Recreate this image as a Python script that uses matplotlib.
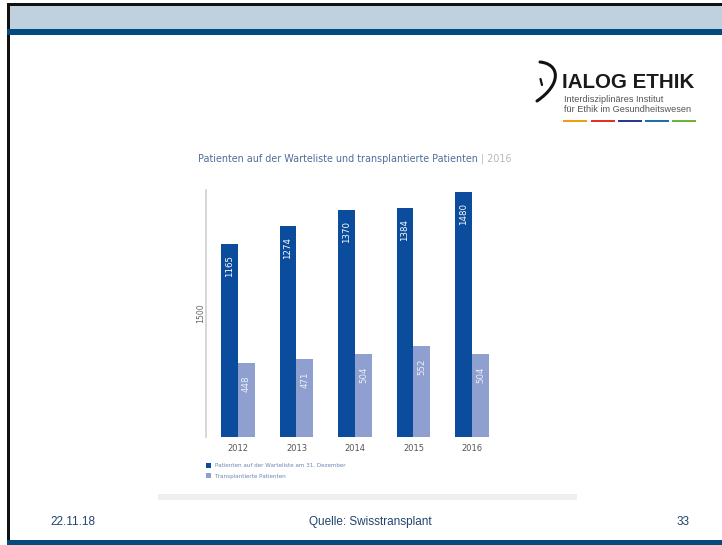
import numpy as np
import matplotlib
matplotlib.use("Agg")
import matplotlib.pyplot as plt
from matplotlib.patches import Rectangle, PathPatch
from matplotlib.path import Path

years = ["2012", "2013", "2014", "2015", "2016"]
waiting = [1165, 1274, 1370, 1384, 1480]
transplanted = [448, 471, 504, 552, 504]

legend_labels = ["Patienten auf der Warteliste am 31. Dezember", "Transplantierte Patienten"]
title_main = "Patienten auf der Warteliste und transplantierte Patienten"
title_year = " | 2016"

DARK = "#0b4c9c"
LIGHT = "#8e9fd0"
W, H = 722, 545

fig = plt.figure(figsize=(W / 100, H / 100), dpi=100)

# slide background in pixel coordinates
bg = fig.add_axes([0, 0, 1, 1])
bg.set_xlim(0, W)
bg.set_ylim(H, 0)
bg.axis("off")

bg.add_patch(Rectangle((7, 3), W - 7, 2.5, color="#111111", lw=0))
bg.add_patch(Rectangle((7, 3), 2.5, 538, color="#111111", lw=0))
bg.add_patch(Rectangle((9.5, 5.5), W, 23.5, color="#bfd1df", lw=0))
bg.add_patch(Rectangle((7, 29), W, 6, color="#034a7e", lw=0))
bg.add_patch(Rectangle((7, 540), W, 6, color="#034a7e", lw=0))

# grey strip under the chart picture
bg.add_patch(Rectangle((158, 494), 419, 6, color="#eeeeee", lw=0))

# logo
verts = [(540, 62), (560, 64), (562, 84), (537, 101)]
bg.add_patch(PathPatch(Path(verts, [Path.MOVETO, Path.CURVE4, Path.CURVE4, Path.CURVE4]),
                       fc="none", ec="#111111", lw=2.2, capstyle="round"))
bg.plot([540.5, 542], [79, 85], color="#111111", lw=1.6, solid_capstyle="round")
bg.text(562, 87.5, "IALOG ETHIK", fontsize=14.8, fontweight="bold", family="Liberation Sans",
        color="#1a1a1a", va="baseline", ha="left")
bg.text(564, 101.5, "Interdisziplinäres Institut", fontsize=6.6, family="Liberation Sans",
        color="#555555", va="baseline")
bg.text(564, 112.5, "für Ethik im Gesundheitswesen", fontsize=6.6, family="Liberation Sans",
        color="#555555", va="baseline")
for x0, c in zip([563, 591, 618, 645, 672], ["#f39c12", "#e0322a", "#2b3990", "#1a6fae", "#6ab33e"]):
    bg.add_patch(Rectangle((x0, 120), 24, 1.6, color=c, lw=0))

# chart title
t = bg.text(198, 162, title_main, fontsize=6.9, color="#4f6d9c", va="baseline")
fig.canvas.draw()
bb = t.get_window_extent()
bg.annotate(title_year, xy=(bb.x1, H - 162), xycoords="figure pixels", fontsize=6.9,
            color="#b8b8b8", va="baseline")

# footer
foot = dict(fontsize=8.5, family="Liberation Sans", color="#23446e", va="center")
bg.text(50, 522, "22.11.18", ha="left", **foot)
bg.text(370, 522, "Quelle: Swisstransplant", ha="center", **foot)
bg.text(690, 522, "33", ha="right", **foot)

# bar chart
ax = fig.add_axes([206 / W, (H - 437) / H, 294 / W, 247 / H])
x = np.arange(len(years))
bw = 0.29
ax.bar(x - bw / 2, waiting, bw, color=DARK, label=legend_labels[0])
ax.bar(x + bw / 2, transplanted, bw, color=LIGHT, label=legend_labels[1])
ax.set_xlim(-0.547, 4.479)
ax.set_ylim(0, 1492)
for xi, v in zip(x, waiting):
    ax.annotate(str(v), (xi - bw / 2, v), xytext=(0, -8), textcoords="offset points",
                rotation=90, ha="center", va="top", fontsize=6.2, color="white")
for xi, v in zip(x, transplanted):
    ax.annotate(str(v), (xi + bw / 2, v), xytext=(0, -9), textcoords="offset points",
                rotation=90, ha="center", va="top", fontsize=6.2, color="#eef0f8")

for s in ["top", "right", "bottom"]:
    ax.spines[s].set_visible(False)
ax.spines["left"].set_color("#cfcfcf")
ax.spines["left"].set_linewidth(1.2)
ax.set_yticks([])
ax.set_xticks(x)
ax.set_xticklabels(years, fontsize=6, color="#555555")
ax.tick_params(axis="x", length=0, pad=5)
ax.set_ylabel("1500", fontsize=5.6, color="#666666", labelpad=1)
ax.patch.set_alpha(0)

ax.legend(loc="upper left", bbox_to_anchor=(0.0, -0.105), frameon=False, fontsize=4.1,
          labelcolor="#6f86b8", handlelength=0.9, handleheight=0.9, handletextpad=0.6,
          labelspacing=0.9, borderaxespad=0, borderpad=0)

fig.savefig("out.png", dpi=100)
